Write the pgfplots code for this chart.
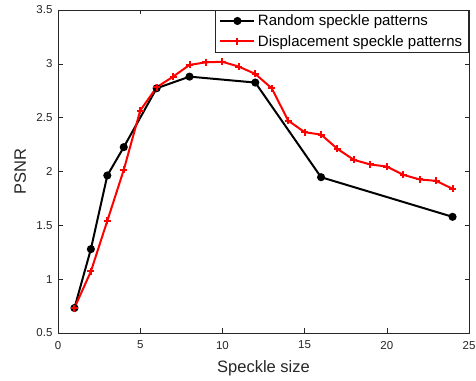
\documentclass[border=0pt]{standalone}
\usepackage{fontspec}
\setmainfont{Liberation Sans}
\usepackage{pgfplots}
\pgfplotsset{compat=1.18}
\definecolor{axgray}{rgb}{0.15,0.15,0.15}
\begin{document}
\begin{tikzpicture}
\begin{axis}[
  scale only axis,
  width=411pt, height=323pt,
  xmin=0, xmax=25, ymin=0.5, ymax=3.5,
  xtick={0,5,10,15,20,25},
  ytick={0.5,1,1.5,2,2.5,3,3.5},
  tick align=inside,
  tick pos=both,
  axis line style={axgray, line width=0.6pt},
  tick style={axgray, line width=0.6pt},
  major tick length=4.5pt,
  ticklabel style={font=\fontsize{11.5}{13}\selectfont, text=axgray},
  xticklabel style={yshift=-4.5pt},
  yticklabel style={xshift=-2pt},
  /pgf/number format/assume math mode=true,
  xlabel={Speckle size},
  ylabel={PSNR},
  label style={font=\fontsize{16.5}{18}\selectfont, text=axgray, inner sep=0pt},
  xlabel style={at={(axis description cs:0.5,-0.1238)}, anchor=base},
  ylabel style={at={(axis description cs:-0.0779,0.5)}, anchor=base},
  legend cell align=left,
  legend image code/.code={%
    \draw[mark repeat=2,mark phase=2,#1] plot coordinates {(0pt,0pt) (17pt,0pt) (34pt,0pt)};},
  legend style={at={(1,1)}, anchor=north east,
    font=\fontsize{15}{16}\selectfont, draw=axgray, line width=0.6pt,
    inner xsep=4pt, inner ysep=2pt, row sep=3pt, nodes={inner sep=2.5pt}, text=black},
]
\addplot[black, line width=2pt, mark=*, mark size=3pt] coordinates {
(1,0.732) (2,1.279) (3,1.963) (4,2.226) (6,2.773) (8,2.881) (12,2.826) (16,1.947) (24,1.579)
};
\addlegendentry{Random speckle patterns}
\addplot[red, line width=2pt, mark=+, mark size=3.5pt, mark options={line width=2pt}] coordinates {
(1,0.732) (2,1.072) (3,1.542) (4,2.015) (5,2.566) (6,2.782) (7,2.881) (8,2.990) (9,3.014) (10,3.019) (11,2.974) (12,2.906) (13,2.773) (14,2.473) (15,2.365) (16,2.343) (17,2.210) (18,2.108) (19,2.065) (20,2.046) (21,1.969) (22,1.926) (23,1.913) (24,1.839)
};
\addlegendentry{Displacement speckle patterns}
\end{axis}
\pgfresetboundingbox
\useasboundingbox ([shift={(-58pt,-48pt)}]current axis.south west) rectangle ([shift={(7pt,10pt)}]current axis.north east);
\end{tikzpicture}
\end{document}
